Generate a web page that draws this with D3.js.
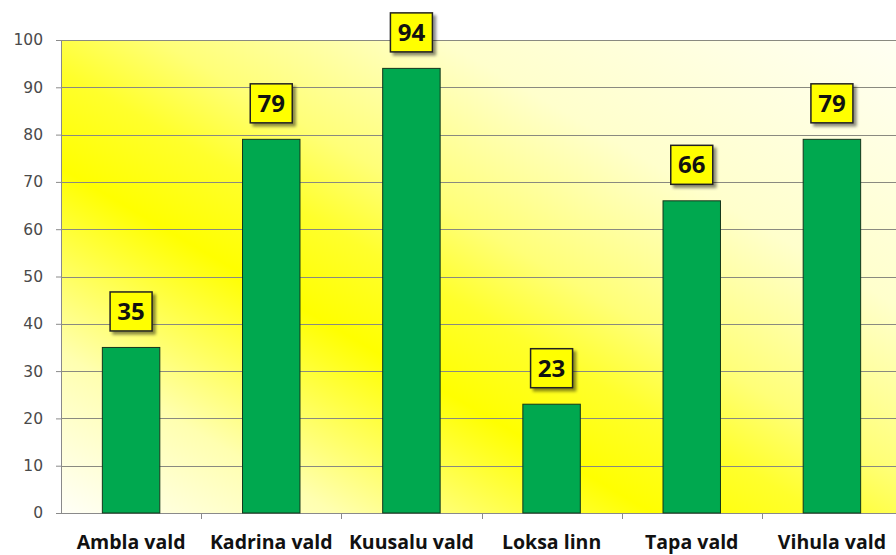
<!DOCTYPE html>
<html>
<head>
<meta charset="utf-8">
<script src="https://cdnjs.cloudflare.com/ajax/libs/d3/7.8.5/d3.min.js"></script>
<style>
  body { margin: 0; background: #fff; }
  svg { display: block; }
</style>
</head>
<body>
<div id="chart"></div>
<script>
var categories = ['Ambla vald', 'Kadrina vald', 'Kuusalu vald', 'Loksa linn', 'Tapa vald', 'Vihula vald'];
var values = [35, 79, 94, 23, 66, 79];
var yTicks = [0, 10, 20, 30, 40, 50, 60, 70, 80, 90, 100];

var W = 896, H = 555;
var margin = {top: 40, left: 61, bottom: 42},
    plotW = 841,
    plotH = H - margin.top - margin.bottom;

var svg = d3.select('#chart').append('svg')
    .attr('width', W)
    .attr('height', H);

var defs = svg.append('defs');

// diagonal yellow band: pale at bottom-left and top-right, yellow across the middle
var bg = defs.append('linearGradient')
    .attr('id', 'bg')
    .attr('gradientUnits', 'userSpaceOnUse')
    .attr('x1', -102).attr('y1', 419)
    .attr('x2', 321).attr('y2', -307);
[
  [0, '#fffffa'],
  [0.17, '#ffffb0'],
  [0.36, '#ffff00'],
  [0.46, '#ffff2c'],
  [0.55, '#ffff78'],
  [0.72, '#ffffcc'],
  [1, '#fffff4']
].forEach(function(s) {
  bg.append('stop').attr('offset', s[0]).attr('stop-color', s[1]);
});

var shadow = defs.append('filter').attr('id', 'shadow')
    .attr('x', '-30%').attr('y', '-30%').attr('width', '160%').attr('height', '160%');
shadow.append('feDropShadow')
    .attr('dx', 3).attr('dy', 3).attr('stdDeviation', 1.5)
    .attr('flood-color', '#000').attr('flood-opacity', 0.45);

var g = svg.append('g')
    .attr('transform', 'translate(' + margin.left + ',' + margin.top + ')');

var x = d3.scaleBand().domain(categories).range([0, plotW]).paddingInner(0.59).paddingOuter(0.295);
var xb = d3.scaleBand().domain(categories).range([0, plotW]);
var y = d3.scaleLinear().domain([0, 100]).range([plotH, 0]);

// background
g.append('rect').attr('width', plotW).attr('height', plotH).attr('fill', 'url(#bg)');

// grid lines
g.append('g').selectAll('line')
    .data(yTicks.slice(1))
    .enter().append('line')
    .attr('x1', 0).attr('x2', plotW)
    .attr('y1', function(d) { return Math.round(y(d)) + 0.5; })
    .attr('y2', function(d) { return Math.round(y(d)) + 0.5; })
    .attr('stroke', '#8a8a80').attr('stroke-width', 1);

// y axis
var yAxis = d3.axisLeft(y).tickValues(yTicks).tickSize(5).tickPadding(13);
var yg = g.append('g').call(yAxis);
yg.select('.domain').attr('stroke', '#8a8a8a').attr('d', 'M0.5,' + plotH + 'V0');
yg.selectAll('.tick line').attr('stroke', '#8a8a8a');
yg.selectAll('.tick text')
    .attr('fill', '#4a4a4a')
    .style('font-family', 'DejaVu Sans, sans-serif')
    .style('font-size', '15.5px');

// x axis
var xAxis = d3.axisBottom(xb).tickSize(0).tickPadding(22);
var xg = g.append('g').attr('transform', 'translate(0,' + plotH + ')').call(xAxis);
xg.select('.domain').attr('stroke', '#8a8a8a').attr('d', 'M0,0.5H' + plotW);
xg.selectAll('.tick text')
    .attr('fill', '#111')
    .style('font-family', 'Open Sans, sans-serif')
    .style('font-weight', 'bold')
    .style('font-size', '19.5px');
// category boundary ticks
xg.append('g').selectAll('line')
    .data(categories.slice(1))
    .enter().append('line')
    .attr('x1', function(d) { return Math.round(xb(d)) + 0.5; })
    .attr('x2', function(d) { return Math.round(xb(d)) + 0.5; })
    .attr('y1', 0).attr('y2', 6)
    .attr('stroke', '#8a8a8a');

// bars
g.selectAll('.bar')
    .data(values)
    .enter().append('rect')
    .attr('class', 'bar')
    .attr('x', function(d, i) { return x(categories[i]); })
    .attr('y', function(d) { return y(d); })
    .attr('width', x.bandwidth())
    .attr('height', function(d) { return plotH - y(d); })
    .attr('fill', '#00a84f')
    .attr('stroke', '#15361c')
    .attr('stroke-width', 1);

// value labels
var lab = g.selectAll('.lab')
    .data(values)
    .enter().append('g')
    .attr('class', 'lab')
    .attr('transform', function(d, i) {
      return 'translate(' + (x(categories[i]) + x.bandwidth() / 2) + ',' + (y(d) - 36) + ')';
    });
lab.append('rect')
    .attr('x', -21).attr('y', -19.5)
    .attr('width', 42).attr('height', 39)
    .attr('fill', '#ffff00')
    .attr('stroke', '#222')
    .attr('stroke-width', 1.5)
    .attr('filter', 'url(#shadow)');
lab.append('text')
    .attr('text-anchor', 'middle')
    .attr('dy', '0.36em')
    .style('font-family', 'Open Sans, sans-serif')
    .style('font-weight', 'bold')
    .style('font-size', '24px')
    .attr('fill', '#111')
    .text(function(d) { return d; });
</script>
</body>
</html>
